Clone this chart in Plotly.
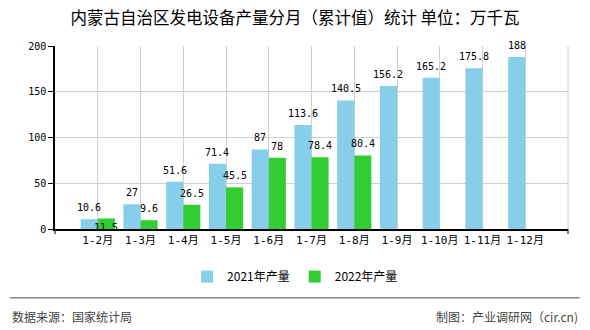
import plotly.graph_objects as go

# Cumulative monthly output of power generation equipment, Inner Mongolia (10k kW)
periods = ["1-2月", "1-3月", "1-4月", "1-5月", "1-6月", "1-7月",
           "1-8月", "1-9月", "1-10月", "1-11月", "1-12月"]
output_2021 = [10.6, 27, 51.6, 71.4, 87, 113.6, 140.5, 156.2, 165.2, 175.8, 188]
output_2022 = [11.5, 9.6, 26.5, 45.5, 78, 78.4, 80.4, None, None, None, None]
series_names = ["2021年产量", "2022年产量"]
y_ticks = [0, 50, 100, 150, 200]

BLUE = "#87CEEB"
GREEN = "#32CD32"
MONO = "DejaVu Sans Mono, Noto Sans CJK SC"
CJK = "Noto Sans CJK SC"

fig = go.Figure()
fig.add_bar(x=periods, y=output_2021, name=series_names[0], marker_color=BLUE,
            marker_line_width=0)
fig.add_bar(x=periods, y=output_2022, name=series_names[1], marker_color=GREEN,
            marker_line_width=0)

# value labels centred over each bar (bar offset = +/-0.2 category)
annotations = []
for series, offset in ((output_2021, -0.2), (output_2022, 0.2)):
    for i, v in enumerate(series):
        if v is None:
            continue
        below = series is output_2022 and i == 0  # label pushed under its bar
        annotations.append(dict(
            x=i + offset, y=v, xref="x", yref="y", text=f"{v:g}",
            showarrow=False, yanchor="top" if below else "bottom",
            yshift=-2 if below else 4,
            font=dict(family=MONO, size=10, color="#000")))

# footer
annotations += [
    dict(x=-0.088, y=-0.478, xref="paper", yref="paper", xanchor="left",
         yanchor="middle", showarrow=False, text="数据来源：国家统计局",
         font=dict(family=CJK, size=12, color="#444")),
    dict(x=1.0228, y=-0.478, xref="paper", yref="paper", xanchor="right",
         yanchor="middle", showarrow=False, text="制图：产业调研网（cir.cn)",
         font=dict(family=CJK, size=12, color="#444")),
]

shapes = [
    # footer separator
    dict(type="line", xref="paper", yref="paper", x0=-0.088, x1=1.0228,
         y0=-0.375, y1=-0.375, line=dict(color="#888", width=1.5)),
    # right border of plot area
    dict(type="line", xref="paper", yref="paper", x0=1, x1=1, y0=0, y1=1,
         line=dict(color="#ccc", width=1)),
    # end ticks on the category axis
    dict(type="line", xref="paper", yref="paper", x0=0, x1=0, y0=0, y1=-0.028,
         line=dict(color="#000", width=1)),
    dict(type="line", xref="paper", yref="paper", x0=1, x1=1, y0=0, y1=-0.028,
         line=dict(color="#000", width=1)),
]

fig.update_layout(
    width=590, height=330,
    margin=dict(l=55, r=22, t=46, b=101),
    paper_bgcolor="white", plot_bgcolor="white",
    barmode="group", bargap=0.2, bargroupgap=0,
    title=dict(text="内蒙古自治区发电设备产量分月（累计值）统计 单位：万千瓦",
               x=0.5, xref="container", y=1 - 18 / 330, yref="container",
               xanchor="center", yanchor="middle",
               font=dict(family=CJK, size=16.5, color="#000")),
    xaxis=dict(type="category", range=[-1, 11], showgrid=True,
               gridcolor="#d0d0d0", gridwidth=1, showline=True,
               linecolor="#000", linewidth=1.5, ticks="",
               tickfont=dict(family=MONO, size=11, color="#000"),
               fixedrange=True),
    yaxis=dict(range=[0, 200], tickvals=y_ticks, showgrid=True,
               gridcolor="#d0d0d0", gridwidth=1, showline=True,
               linecolor="#000", linewidth=1.5, ticks="outside", ticklen=5,
               tickcolor="#000", zeroline=False,
               tickfont=dict(family=MONO, size=10, color="#000"),
               fixedrange=True),
    legend=dict(orientation="h", x=0.468, y=-0.26, xanchor="center",
                yanchor="middle", font=dict(family=CJK, size=12, color="#000"),
                itemwidth=30, traceorder="normal"),
    annotations=annotations,
    shapes=shapes,
)

fig.write_html("out.html", config={"displayModeBar": False})
